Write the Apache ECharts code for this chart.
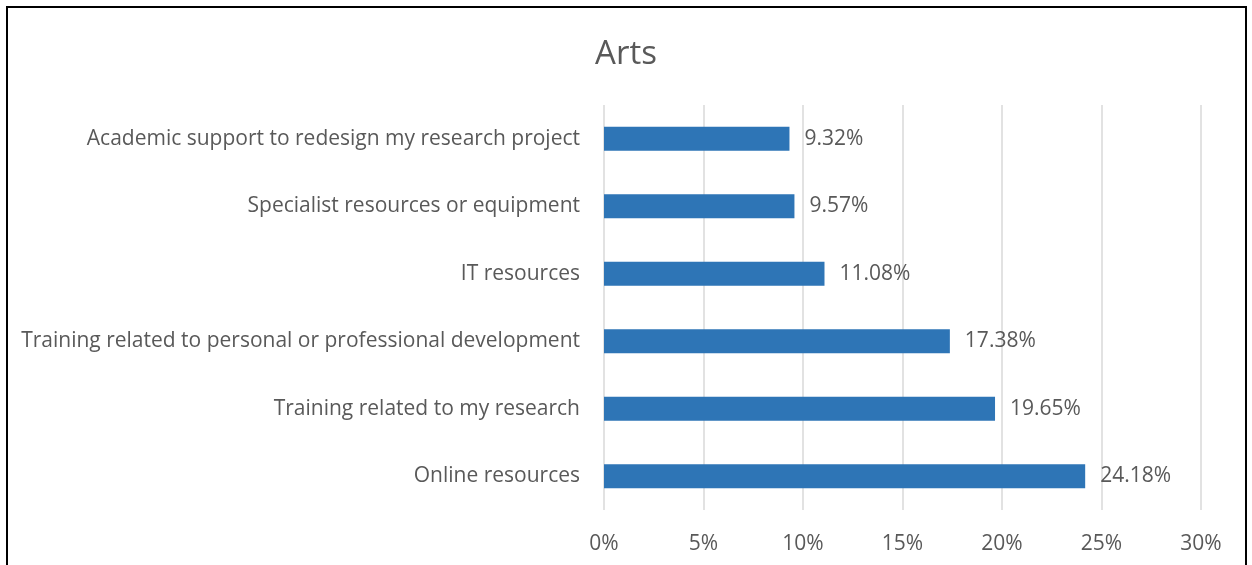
<!DOCTYPE html>
<html>
<head>
<meta charset="utf-8">
<script src="https://cdn.jsdelivr.net/npm/echarts@6/dist/echarts.min.js"></script>
<style>
  html, body { margin: 0; padding: 0; background: #fff; }
  #chart { width: 1252px; height: 565px; }
</style>
</head>
<body>
<div id="chart"></div>
<script>
const categories = [
    'Academic support to redesign my research project',
    'Specialist resources or equipment',
    'IT resources',
    'Training related to personal or professional development',
    'Training related to my research',
    'Online resources'
];
const values = [9.32, 9.57, 11.08, 17.38, 19.65, 24.18];
const xTicks = [0, 5, 10, 15, 20, 25, 30];

window.addEventListener('load', function() {
    const myChart = echarts.init(document.getElementById('chart'));
    const textColor = '#595959';
    const font = 'Open Sans';

    const option = {
        animation: false,
        title: {
            text: 'Arts',
            left: 'center',
            top: 33,
            textStyle: { color: textColor, fontSize: 33, fontWeight: 'normal', fontFamily: font }
        },
        graphic: [{
            type: 'rect',
            shape: { x: 7, y: 7, width: 1239, height: 600 },
            style: { fill: 'none', stroke: '#000', lineWidth: 2 },
            silent: true
        }],
        grid: { left: 604, right: 51, top: 105, bottom: 55 },
        xAxis: {
            type: 'value',
            min: xTicks[0],
            max: xTicks[xTicks.length - 1],
            interval: 5,
            axisLine: { show: false },
            axisTick: { show: false },
            splitLine: { show: true, lineStyle: { color: '#d9d9d9', width: 1.5 } },
            axisLabel: {
                color: textColor, fontSize: 21, fontFamily: font, margin: 24,
                formatter: v => v + '%'
            }
        },
        yAxis: {
            type: 'category',
            inverse: true,
            data: categories,
            axisLine: { show: false },
            axisTick: { show: false },
            axisLabel: {
                color: textColor, fontSize: 21, fontFamily: font, margin: 24,
                padding: [4, 0, 0, 0]
            }
        },
        series: [{
            type: 'bar',
            data: values,
            barWidth: 24,
            itemStyle: { color: '#2e75b6' },
            label: {
                show: true,
                position: 'right',
                distance: 15,
                color: textColor,
                fontSize: 21,
                fontFamily: font,
                padding: [4, 0, 0, 0],
                formatter: p => p.value.toFixed(2) + '%'
            }
        }]
    };

    myChart.setOption(option);
});
</script>
</body>
</html>
